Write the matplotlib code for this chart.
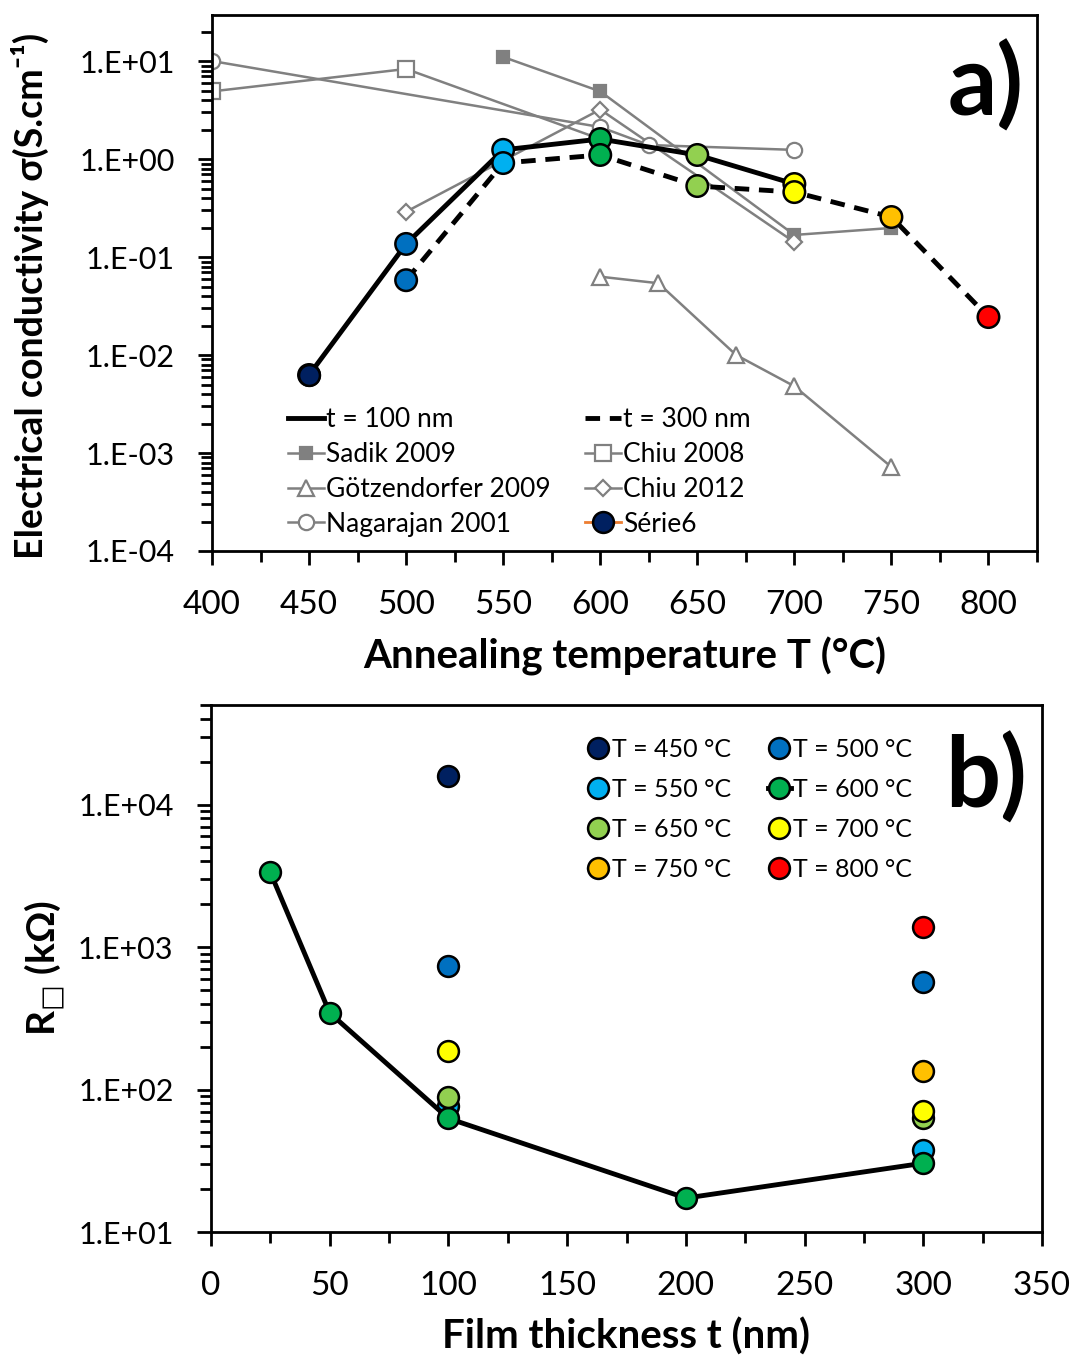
import numpy as np
import matplotlib
matplotlib.use('Agg')
import matplotlib.pyplot as plt
from matplotlib.ticker import LogLocator, FuncFormatter, MultipleLocator, NullFormatter

# fonts: Lato looks close to Calibri, DejaVu as fallback for symbols
plt.rcParams['font.family'] = ['Lato', 'DejaVu Sans']
plt.rcParams['mathtext.fontset'] = 'dejavusans'

# ---- data, panel a) conductivity vs annealing temperature ----
T_100 = [450, 500, 550, 600, 650, 700]
sigma_100 = [0.00625, 0.136, 1.24, 1.6, 1.1, 0.556]
T_300 = [500, 550, 600, 650, 700, 750, 800]
sigma_300 = [0.058, 0.91, 1.1, 0.53, 0.46, 0.256, 0.0244]

sadik_T = [550, 600, 700, 750]
sadik_s = [11.0, 4.9, 0.168, 0.198]
chiu08_T = [400, 500, 600]
chiu08_s = [4.9, 8.3, 1.6]
gotz_T = [600, 630, 670, 700, 750]
gotz_s = [0.063, 0.054, 0.0100, 0.0048, 0.00072]
chiu12_T = [500, 600, 700]
chiu12_s = [0.29, 3.2, 0.142]
naga_T = [400, 600, 625, 700]
naga_s = [10.0, 2.12, 1.39, 1.24]
serie6_T = [450]
serie6_s = [0.00625]

# ---- data, panel b) sheet resistance vs film thickness ----
t_600 = [25, 50, 100, 200, 300]
R_600 = [3340, 345, 62.7, 17.3, 30.4]
R_points = {
    450: ([100], [15950]),
    500: ([100, 300], [736, 569]),
    550: ([100, 300], [77, 37.4]),
    650: ([100, 300], [89, 63]),
    700: ([100, 300], [187, 71]),
    750: ([300], [134]),
    800: ([300], [1380]),
}

temp_colors = {450: '#002060', 500: '#0070C0', 550: '#00B0F0', 600: '#00B050',
               650: '#92D050', 700: '#FFFF00', 750: '#FFC000', 800: '#FF0000'}
gray = '#808080'

W, H = 1077, 1358
fig = plt.figure(figsize=(W / 100, H / 100), dpi=100)


def sci_fmt(v, pos):
    return '1.E{:+03d}'.format(int(round(np.log10(v))))


def style_axis(ax):
    for s in ax.spines.values():
        s.set_linewidth(2)
    ax.tick_params(which='major', direction='out', length=10, width=2, labelsize=24)
    ax.tick_params(which='minor', direction='out', length=8, width=2)
    ax.tick_params(axis='y', which='major', labelsize=22, pad=17)
    ax.tick_params(axis='x', which='major', pad=18)
    ax.yaxis.set_major_formatter(FuncFormatter(sci_fmt))
    ax.yaxis.set_minor_locator(LogLocator(base=10, subs=np.arange(2, 10)))
    ax.yaxis.set_minor_formatter(NullFormatter())
    ax.xaxis.set_major_locator(MultipleLocator(50))
    ax.xaxis.set_minor_locator(MultipleLocator(25))


# ================= panel a) =================
ax1 = fig.add_axes([212 / W, 1 - 551 / H, (1037 - 212) / W, (551 - 15) / H])
ax1.set_yscale('log')

gkw = dict(color=gray, lw=1.8, mec=gray, mew=1.6)
h_sadik, = ax1.plot(sadik_T, sadik_s, marker='s', ms=8, mfc=gray, label='Sadik 2009', **gkw)
h_chiu08, = ax1.plot(chiu08_T, chiu08_s, marker='s', ms=11, mfc='white', label='Chiu 2008', **gkw)
h_gotz, = ax1.plot(gotz_T, gotz_s, marker='^', ms=11, mfc='white', label='Götzendorfer 2009', **gkw)
h_chiu12, = ax1.plot(chiu12_T, chiu12_s, marker='D', ms=8, mfc='white', label='Chiu 2012', **gkw)
h_naga, = ax1.plot(naga_T, naga_s, marker='o', ms=11, mfc='white', label='Nagarajan 2001', **gkw)

h100, = ax1.plot(T_100, sigma_100, color='black', lw=3.5, label='t = 100 nm', zorder=4)
h300, = ax1.plot(T_300, sigma_300, color='black', lw=3.5, dashes=(3, 2), label='t = 300 nm', zorder=4)
ax1.scatter(T_100, sigma_100, s=240, c=[temp_colors[t] for t in T_100],
            edgecolors='black', linewidths=1.8, zorder=5)
ax1.scatter(T_300, sigma_300, s=240, c=[temp_colors[t] for t in T_300],
            edgecolors='black', linewidths=1.8, zorder=6)
h_s6, = ax1.plot(serie6_T, serie6_s, color='#ED7D31', lw=2, marker='o', ms=15,
                 mfc=temp_colors[450], mec='black', mew=1.8, label='Série6', zorder=7)

ax1.set_xlim(400, 825)
ax1.set_ylim(1e-4, 29.5)
style_axis(ax1)
ax1.set_xlabel('Annealing temperature T (°C)', fontsize=29, fontweight='bold', labelpad=12)
ax1.set_ylabel('Electrical conductivity σ(S.cm⁻¹)', fontsize=27, fontweight='bold')
ax1.yaxis.set_label_coords(-0.197, 0.475)
ax1.text(0.984, 0.955, 'a)', transform=ax1.transAxes, ha='right', va='top',
         fontsize=70, fontweight='bold')

handles = [h100, h_sadik, h_gotz, h_naga, h300, h_chiu08, h_chiu12, h_s6]
ax1.legend(handles=handles, ncol=2, loc='upper left', bbox_to_anchor=(0.092, 0.268),
           frameon=False, fontsize=19, handlelength=1.35, handletextpad=0.1,
           columnspacing=1.3, labelspacing=0.37, borderpad=0, borderaxespad=0)

# ================= panel b) =================
ax2 = fig.add_axes([211 / W, 1 - 1232 / H, (1042 - 211) / W, (1232 - 705) / H])
ax2.set_yscale('log')

mkw = dict(marker='o', ms=15, mec='black', mew=1.8)
hb = {}
for temp in [450, 500, 550, 600, 650, 700, 750, 800]:
    if temp == 600:
        hb[temp], = ax2.plot(t_600, R_600, color='black', lw=3.5, mfc=temp_colors[temp],
                             label='T = 600 °C', zorder=3, **mkw)
    elif temp == 750:
        x, y = R_points[temp]
        hb[temp], = ax2.plot(x, y, color='#8EA9DB', lw=1, mfc=temp_colors[temp],
                             label='T = 750 °C', zorder=3, **mkw)
    else:
        x, y = R_points[temp]
        hb[temp], = ax2.plot(x, y, linestyle='none', mfc=temp_colors[temp],
                             label='T = %d °C' % temp, zorder=3, **mkw)

ax2.set_xlim(0, 350)
ax2.set_ylim(10, 5e4)
style_axis(ax2)
ax2.set_xlabel('Film thickness t (nm)', fontsize=29, fontweight='bold', labelpad=12)
ax2.set_ylabel('R$_{\u25a1}$ (kΩ)', fontsize=28, fontweight='bold', labelpad=8)
ax2.text(0.982, 0.95, 'b)', transform=ax2.transAxes, ha='right', va='top',
         fontsize=70, fontweight='bold')

order = [450, 550, 650, 750, 500, 600, 700, 800]
ax2.legend(handles=[hb[t] for t in order], ncol=2, loc='upper left',
           bbox_to_anchor=(0.452, 0.937), frameon=False, fontsize=18,
           handlelength=0.9, handletextpad=0.1, columnspacing=1.5,
           labelspacing=0.68, borderpad=0, borderaxespad=0)

fig.savefig('out.png', dpi=100)
